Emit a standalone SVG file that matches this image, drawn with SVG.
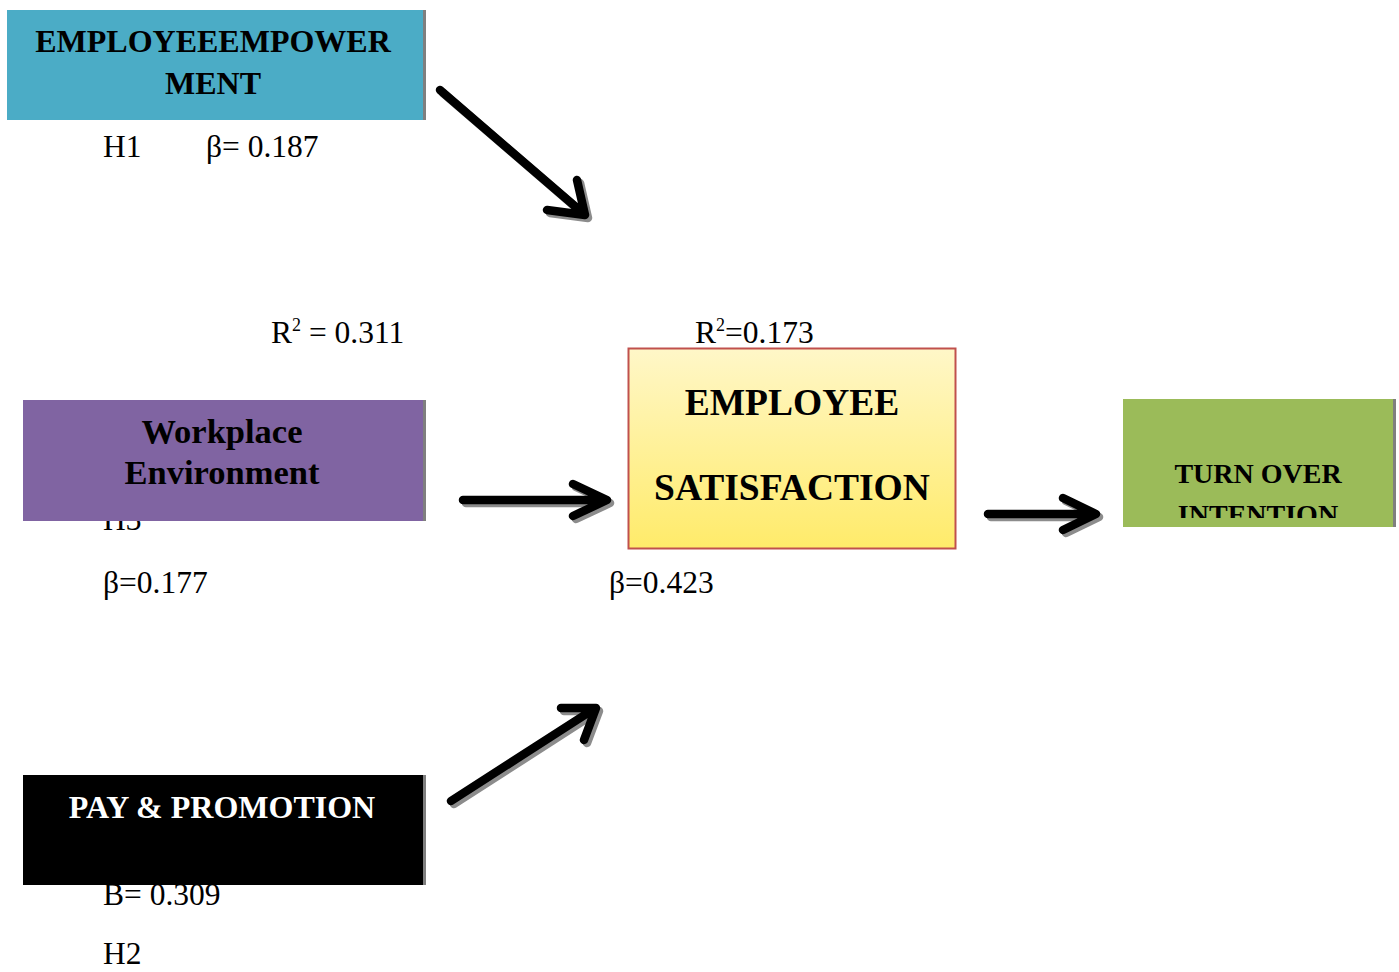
<svg xmlns="http://www.w3.org/2000/svg" width="1399" height="972" viewBox="0 0 1399 972">
<style>
.lbl{font-family:"Liberation Serif","Times New Roman",serif;font-size:31.5px;fill:#000}
.sup{font-size:18px}
.nt{font-family:"Liberation Serif","Times New Roman",serif;font-weight:bold;fill:#000;text-anchor:middle}
.arr{fill:none;stroke:#000;stroke-width:8.5;stroke-linecap:round;stroke-linejoin:round}
.sh{fill:none;stroke:#8c8c8c;stroke-width:8.5;stroke-linecap:round;stroke-linejoin:round}
.edge{fill:#7f7f7f}
</style>
<defs>
<linearGradient id="yg" x1="0" y1="0" x2="0" y2="1">
<stop offset="0" stop-color="#FFF7C8"/>
<stop offset="1" stop-color="#FFEB6A"/>
</linearGradient>
<clipPath id="tclip"><rect x="1123" y="399" width="270" height="119"/></clipPath>
</defs>

<!-- labels partially hidden under nodes (drawn first) -->
<text class="lbl" x="103" y="530">H3</text>
<text class="lbl" x="103" y="905">B= 0.309</text>

<g id="node-empowerment">
<rect x="7" y="10" width="416" height="110" fill="#4BACC6"/>
<rect class="edge" x="423" y="10" width="3" height="110"/>
<text class="nt" x="213" y="52" font-size="32">EMPLOYEEEMPOWER</text>
<text class="nt" x="213" y="94" font-size="32">MENT</text>
</g>

<g id="node-workplace">
<rect x="23" y="400" width="400" height="121" fill="#8064A2"/>
<rect class="edge" x="423" y="400" width="3" height="121"/>
<text class="nt" x="222" y="443" font-size="34.5">Workplace</text>
<text class="nt" x="222" y="484" font-size="34.5">Environment</text>
</g>

<g id="node-pay">
<rect x="23" y="775" width="400" height="110" fill="#000"/>
<rect class="edge" x="423" y="775" width="3" height="110"/>
<text class="nt" x="222" y="818" font-size="32" style="fill:#fff">PAY &amp; PROMOTION</text>
</g>

<g id="node-satisfaction">
<rect x="628.5" y="348.5" width="327" height="200" fill="url(#yg)" stroke="#C0504D" stroke-width="2"/>
<text class="nt" x="792" y="415" font-size="37.5">EMPLOYEE</text>
<text class="nt" x="792" y="500" font-size="37.5">SATISFACTION</text>
</g>

<g id="node-turnover">
<rect x="1123" y="399" width="270" height="128" fill="#9BBB59"/>
<rect class="edge" x="1393" y="399" width="3" height="128"/>
<g clip-path="url(#tclip)">
<text class="nt" x="1258" y="483" font-size="28">TURN OVER</text>
<text class="nt" x="1258" y="524" font-size="28">INTENTION</text>
</g>
</g>

<g id="connectors">
<g transform="translate(3,3)">
<path class="sh" d="M440,90 L584,214 M547,210 L585,215 L577,180"/>
<path class="sh" d="M463,500 L605,500 M573,484 L607,500 L573,516"/>
<path class="sh" d="M988,514 L1094,514 M1063,498 L1096,514 L1063,530"/>
<path class="sh" d="M451,801 L594,709 M561,708 L596,708 L584,740"/>
</g>
<path class="arr" d="M440,90 L584,214 M547,210 L585,215 L577,180"/>
<path class="arr" d="M463,500 L605,500 M573,484 L607,500 L573,516"/>
<path class="arr" d="M988,514 L1094,514 M1063,498 L1096,514 L1063,530"/>
<path class="arr" d="M451,801 L594,709 M561,708 L596,708 L584,740"/>
</g>

<g id="labels">
<text class="lbl" x="103" y="157">H1</text>
<text class="lbl" x="206" y="157">β= 0.187</text>
<text class="lbl" x="271" y="343">R<tspan class="sup" dy="-12">2</tspan><tspan dy="12"> = 0.311</tspan></text>
<text class="lbl" x="695" y="343">R<tspan class="sup" dy="-12">2</tspan><tspan dy="12">=0.173</tspan></text>
<text class="lbl" x="103" y="593">β=0.177</text>
<text class="lbl" x="609" y="593">β=0.423</text>
<text class="lbl" x="103" y="964">H2</text>
</g>
</svg>
